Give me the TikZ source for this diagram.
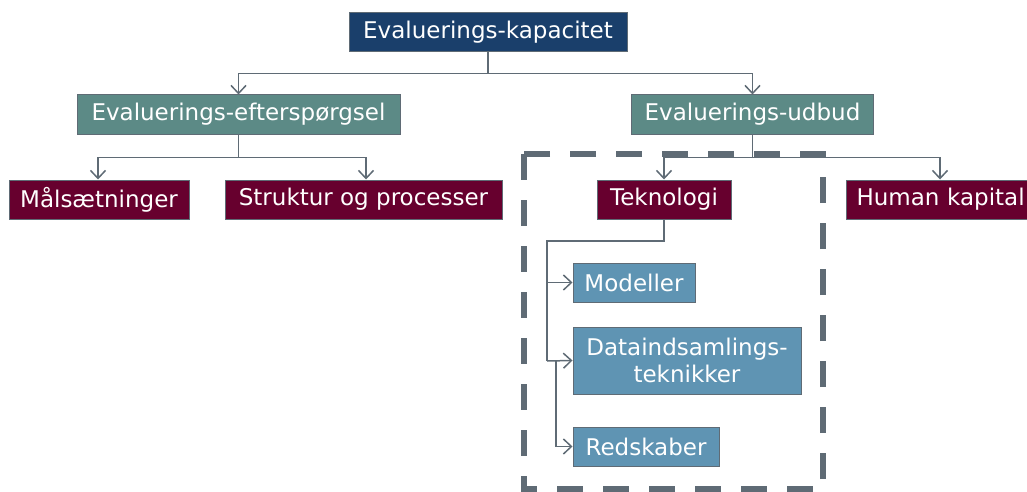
\documentclass[tikz,border=0pt]{standalone}
\usepackage{fontspec}
\setmainfont{DejaVu Sans}
\usetikzlibrary{arrows.meta}
\definecolor{navy}{HTML}{1A3F6B}
\definecolor{teal}{HTML}{5C8A86}
\definecolor{wine}{HTML}{67002E}
\definecolor{steel}{HTML}{5F94B3}
\definecolor{slate}{HTML}{5F6B75}
\begin{document}
\begin{tikzpicture}[x=1pt,y=-1pt,
  box/.style={draw=slate, line width=1pt, text=white, inner sep=0pt,
    minimum height=39pt, font=\fontsize{23}{27}\selectfont, align=center},
  level0/.style={box, fill=navy},
  level1/.style={box, fill=teal},
  level2/.style={box, fill=wine},
  level3/.style={box, fill=steel},
  conn/.style={draw=slate, line width=1.5pt},
  arr/.style={conn, -{Straight Barb[length=8pt,width=15pt]}},
  dashbox/.style={draw=slate, line width=6pt, dash pattern=on 26pt off 20pt}]
\useasboundingbox (0,0) rectangle (1027,492);

% dashed frame around the technology branch
\draw[dashbox] (524,154) rectangle (823,489);

% boxes
\node[level0, minimum width=278pt] (kap) at (488,32.5) {Evaluerings-kapacitet};
\node[level1, minimum width=323pt] (eft) at (238.5,114.5) {Evaluerings-efterspørgsel};
\node[level1, minimum width=242pt] (udb) at (752.5,114.5) {Evaluerings-udbud};
\node[level2, minimum width=180pt] (mal) at (99,199.5) {Målsætninger};
\node[level2, minimum width=277pt] (str) at (363.5,199.5) {Struktur og processer};
\node[level2, minimum width=134pt] (tek) at (664,199.5) {Teknologi};
\node[level2, minimum width=200pt, anchor=west, text width=180pt, align=left,
      inner xsep=10pt] (hum) at (846,199.5) {Human kapital};
\node[level3, minimum width=122pt] (mod) at (634,282.5) {Modeller};
\node[level3, minimum width=228pt, minimum height=67pt] (dat) at (687,360.5)
      {Dataindsamlings-\\teknikker};
\node[level3, minimum width=146pt] (red) at (646,446.5) {Redskaber};

% junction points, straight below each parent
\coordinate (k1) at ([yshift=-21pt]kap.south);
\coordinate (e1) at ([yshift=-23pt]eft.south);
\coordinate (u1) at ([yshift=-23pt]udb.south);
\coordinate (t1) at (547,241);
\coordinate (t2) at (547,361);
\coordinate (d1) at (556,361);

% connectors
\draw[conn] (kap.south) -- (k1);
\draw[arr] (k1) -| (eft.north);
\draw[arr] (k1) -| (udb.north);

\draw[conn] (eft.south) -- (e1);
\draw[arr] (e1) -| ([xshift=-1pt]mal.north);
\draw[arr] (e1) -| ([xshift=2.5pt]str.north);

\draw[conn] (udb.south) -- (u1);
\draw[arr] (u1) -| (tek.north);
\draw[arr] (u1) -| ([xshift=94pt]hum.north west);

\draw[conn] (tek.south) |- (t1) -- (t2);
\draw[arr] (t1 |- mod.west) -- (mod.west);
\draw[arr] (t2) -- (dat.west);
\draw[arr] (d1) |- (red.west);
\end{tikzpicture}
\end{document}
